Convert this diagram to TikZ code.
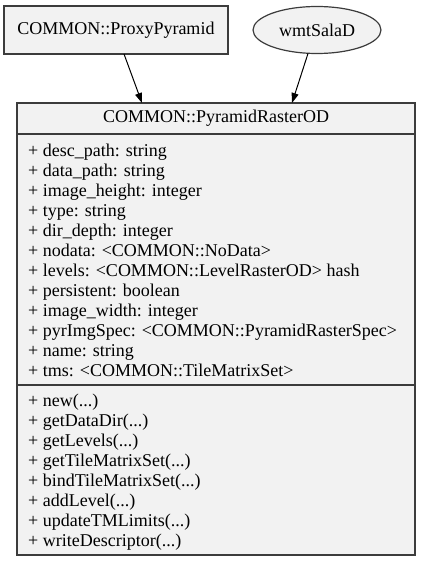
\documentclass[tikz,border=0pt]{standalone}
\usepackage{fontspec}
\setmainfont{Liberation Serif}
\definecolor{umlfill}{RGB}{242,242,242}
\definecolor{umlline}{RGB}{60,60,60}
\usetikzlibrary{arrows.meta,positioning,shapes.geometric}

\begin{document}
\begin{tikzpicture}[
  x=1pt, y=-1pt,
  every node/.style={font=\fontsize{18}{20}\selectfont},
  umlbox/.style={draw=umlline,fill=umlfill,line width=1.2pt,inner sep=0pt,outer sep=0pt},
  members/.style={anchor=west,align=left,inner sep=0pt},
  arr/.style={-{Triangle[length=10pt,width=7pt]},line width=1pt,black},
]
  \useasboundingbox (0,0) rectangle (421,561);

  % Parents (top)
  \node[umlbox,minimum width=224pt,minimum height=48pt] (proxy) at (116,30) {COMMON::ProxyPyramid};
  \node[umlbox,ellipse,minimum width=128pt,minimum height=47pt] (wmts) at (317,30) {wmtSalaD};

  % Class box
  \node[umlbox,minimum width=398pt,minimum height=31pt] (head) at (216,118.5) {COMMON::PyramidRasterOD};
  \node[umlbox,minimum width=398pt,minimum height=251pt,below=0pt of head] (attrs) {};
  \node[umlbox,minimum width=398pt,minimum height=170pt,below=0pt of attrs] (meths) {};

  % Attributes
  \node[members] (attrtxt) at (28,260) {+ desc\_path: string\\
    + data\_path: string\\
    + image\_height: integer\\
    + type: string\\
    + dir\_depth: integer\\
    + nodata: <COMMON::NoData>\\
    + levels: <COMMON::LevelRasterOD> hash\\
    + persistent: boolean\\
    + image\_width: integer\\
    + pyrImgSpec: <COMMON::PyramidRasterSpec>\\
    + name: string\\
    + tms: <COMMON::TileMatrixSet>};

  % Methods
  \node[members] (methtxt) at (28,472) {+ new(...)\\
    + getDataDir(...)\\
    + getLevels(...)\\
    + getTileMatrixSet(...)\\
    + bindTileMatrixSet(...)\\
    + addLevel(...)\\
    + updateTMLimits(...)\\
    + writeDescriptor(...)};

  % Inheritance arrows
  \draw[arr] ([xshift=8pt]proxy.south) -- ([xshift=-74pt]head.north);
  \draw[arr] ([xshift=-9pt]wmts.south) -- ([xshift=76pt]head.north);
\end{tikzpicture}
\end{document}
